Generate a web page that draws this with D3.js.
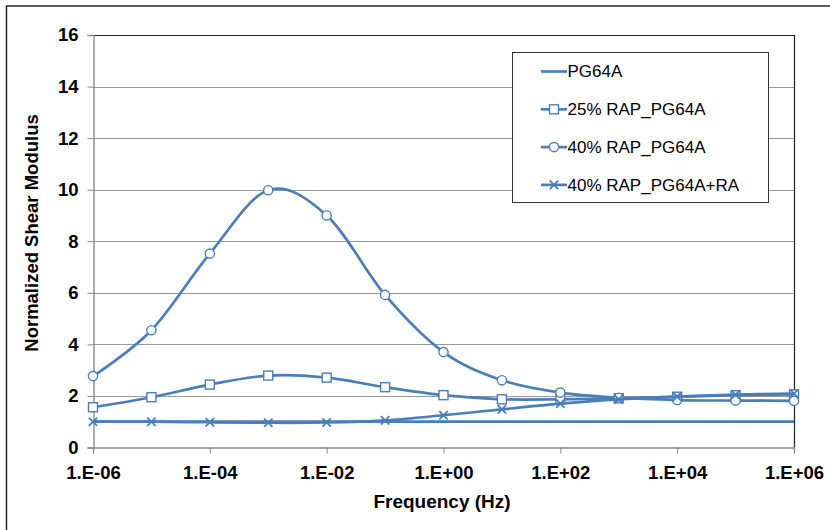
<!DOCTYPE html>
<html>
<head>
<meta charset="utf-8">
<script src="https://cdn.jsdelivr.net/npm/d3@7"></script>
<style>
  html, body { margin: 0; padding: 0; background: #fff; }
  svg { display: block; font-family: "Liberation Sans", Arial, sans-serif; }
</style>
</head>
<body>
<svg id="chart" width="830" height="530"></svg>
<script>
// Frequency sweep, one point per decade
const frequencies = [1e-6, 1e-5, 1e-4, 1e-3, 1e-2, 1e-1, 1e0, 1e1, 1e2, 1e3, 1e4, 1e5, 1e6];
const xTickValues = [1e-6, 1e-4, 1e-2, 1e0, 1e2, 1e4, 1e6];
const yTickValues = [0, 2, 4, 6, 8, 10, 12, 14, 16];

const seriesNames = ["PG64A", "25% RAP_PG64A", "40% RAP_PG64A", "40% RAP_PG64A+RA"];
const pg64a      = [1.0, 1.0, 1.0, 1.0, 1.0, 1.0, 1.0, 1.0, 1.0, 1.0, 1.0, 1.0, 1.0];
const rap25      = [1.56, 1.95, 2.44, 2.79, 2.71, 2.34, 2.03, 1.87, 1.87, 1.91, 1.97, 2.03, 2.06];
const rap40      = [2.77, 4.55, 7.52, 9.98, 9.0, 5.92, 3.7, 2.61, 2.13, 1.93, 1.84, 1.82, 1.81];
const rap40ra    = [1.0, 1.0, 0.98, 0.96, 0.97, 1.05, 1.25, 1.48, 1.70, 1.87, 1.97, 2.05, 2.09];
const seriesMarkers = ["none", "square", "circle", "cross"];

const blue = "#4A7EBB";
const svg = d3.select("#chart");

// Outer chart frame
svg.append("rect")
  .attr("x", 6.5).attr("y", 6).attr("width", 830).attr("height", 530)
  .attr("fill", "none").attr("stroke", "#1a1a1a").attr("stroke-width", 1.4);

const plot = { left: 93, right: 794, top: 35, bottom: 447.5 };
const x = d3.scaleLog().domain([1e-6, 1e6]).range([plot.left, plot.right]);
const y = d3.scaleLinear().domain([0, 16]).range([plot.bottom, plot.top]);

// Horizontal gridlines
svg.append("g").selectAll("line")
  .data(yTickValues.filter(v => v > 0 && v < 16))
  .join("line")
  .attr("x1", plot.left).attr("x2", plot.right)
  .attr("y1", d => Math.round(y(d)) + 0.5).attr("y2", d => Math.round(y(d)) + 0.5)
  .attr("stroke", "#9a9a9a").attr("stroke-width", 1);

// Plot area border (top and right are dark)
svg.append("path")
  .attr("d", `M${plot.left},${Math.round(plot.top) + 0.5}H${plot.right + 0.5}V${plot.bottom}`)
  .attr("fill", "none").attr("stroke", "#222").attr("stroke-width", 1.2);

const fmtFreq = v => {
  const e = Math.round(Math.log10(v));
  return "1.E" + (e < 0 ? "-" : "+") + String(Math.abs(e)).padStart(2, "0");
};

// Y axis
const yAxis = d3.axisLeft(y).tickValues(yTickValues).tickSize(6).tickPadding(9).tickFormat(d3.format("d"));
const gy = svg.append("g").attr("transform", `translate(${plot.left + 0.5},0)`).call(yAxis);
gy.select(".domain").attr("stroke", "#868686").attr("stroke-width", 1.3);
gy.selectAll(".tick line").attr("stroke", "#868686");
gy.selectAll(".tick text")
  .attr("font-size", "18.5px").attr("font-weight", "bold").attr("fill", "#000")
  .attr("font-family", "Liberation Sans, Arial, sans-serif");

// X axis
const xAxis = d3.axisBottom(x).tickValues(xTickValues).tickSize(6).tickPadding(12).tickFormat(fmtFreq);
const gx = svg.append("g").attr("transform", `translate(0,${plot.bottom})`).call(xAxis);
gx.select(".domain").attr("stroke", "#868686").attr("stroke-width", 1.3);
gx.selectAll(".tick line").attr("stroke", "#868686");
gx.selectAll(".tick text")
  .attr("font-size", "18.5px").attr("font-weight", "bold").attr("fill", "#000")
  .attr("font-family", "Liberation Sans, Arial, sans-serif");

// Axis titles
svg.append("text")
  .attr("x", 442).attr("y", 508)
  .attr("text-anchor", "middle")
  .attr("font-size", "19px").attr("font-weight", "bold")
  .text("Frequency (Hz)");

svg.append("text")
  .attr("transform", "translate(38,233) rotate(-90)")
  .attr("text-anchor", "middle")
  .attr("font-size", "18.5px").attr("font-weight", "bold")
  .text("Normalized Shear Modulus");

// Series
const seriesValues = [pg64a, rap25, rap40, rap40ra];
const line = d3.line()
  .x(d => x(d[0]))
  .y(d => y(d[1]))
  .curve(d3.curveCatmullRom.alpha(0));

function drawMarker(g, type, cx, cy) {
  if (type === "square") {
    g.append("rect").attr("x", cx - 4.5).attr("y", cy - 4.5).attr("width", 9).attr("height", 9)
      .attr("fill", "#fff").attr("stroke", blue).attr("stroke-width", 1.4);
  } else if (type === "circle") {
    g.append("circle").attr("cx", cx).attr("cy", cy).attr("r", 4.6)
      .attr("fill", "#fff").attr("stroke", blue).attr("stroke-width", 1.4);
  } else if (type === "cross") {
    const s = 4.2;
    g.append("path")
      .attr("d", `M${cx - s},${cy - s}L${cx + s},${cy + s}M${cx - s},${cy + s}L${cx + s},${cy - s}`)
      .attr("stroke", blue).attr("stroke-width", 1.8).attr("fill", "none");
  }
}

seriesValues.forEach((vals, i) => {
  const pts = frequencies.map((f, j) => [f, vals[j]]);
  const g = svg.append("g");
  g.append("path").attr("d", line(pts))
    .attr("fill", "none").attr("stroke", blue).attr("stroke-width", 2.7);
  pts.forEach(p => drawMarker(g, seriesMarkers[i], x(p[0]), y(p[1])));
});

// Legend
const legend = svg.append("g");
legend.append("rect")
  .attr("x", 512.5).attr("y", 52.5).attr("width", 256).attr("height", 150)
  .attr("fill", "#fff").attr("stroke", "#333").attr("stroke-width", 1);

seriesNames.forEach((name, i) => {
  const cy = 71.5 + i * 37.8;
  legend.append("line")
    .attr("x1", 541).attr("x2", 567).attr("y1", cy).attr("y2", cy)
    .attr("stroke", blue).attr("stroke-width", 2.7);
  drawMarker(legend, seriesMarkers[i], 554, cy);
  legend.append("text")
    .attr("x", 567.5).attr("y", cy + 5.8)
    .attr("font-size", "17px")
    .text(name);
});
</script>
</body>
</html>
